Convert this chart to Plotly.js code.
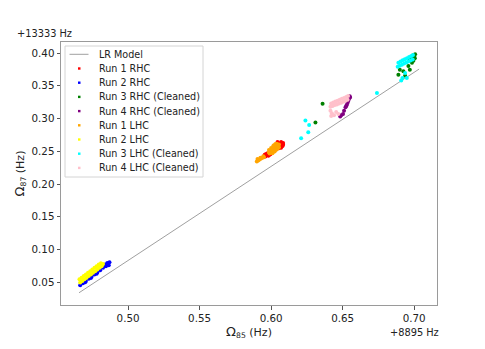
<!DOCTYPE html>
<html>
<head>
<meta charset="utf-8">
<script src="https://cdn.plot.ly/plotly-3.0.1.min.js"></script>
<style>
    html, body { margin: 0; padding: 0; background: #fff; }
    #chart { width: 485px; height: 349px; }
</style>
</head>
<body>
<div id="chart"></div>
<script>
// Offsets shown on the axes
const X_OFFSET_LABEL = "+8895 Hz";
const Y_OFFSET_LABEL = "+13333 Hz";

// Linear regression model
const lrX = [0.4657, 0.7035];
const lrY = [0.0340, 0.3755];

// Run 1 RHC
const run1RhcX = [0.5955, 0.5965, 0.5975, 0.5985, 0.5995, 0.5960, 0.5980, 0.6030, 0.6040, 0.6050, 0.6060, 0.6070, 0.6080, 0.6035, 0.6055, 0.6075, 0.6084, 0.6045, 0.6080, 0.6070, 0.6084];
const run1RhcY = [0.2445, 0.2460, 0.2470, 0.2440, 0.2455, 0.2420, 0.2430, 0.2560, 0.2580, 0.2600, 0.2620, 0.2640, 0.2610, 0.2530, 0.2545, 0.2580, 0.2625, 0.2640, 0.2580, 0.2555, 0.2600];

// Run 2 RHC
const run2RhcX = [0.4665, 0.4685, 0.4705, 0.4725, 0.4745, 0.4765, 0.4785, 0.4805, 0.4825, 0.4845, 0.4860, 0.4870, 0.4855, 0.4840, 0.4865, 0.4700, 0.4740, 0.4780];
const run2RhcY = [0.0455, 0.0485, 0.0520, 0.0555, 0.0585, 0.0620, 0.0650, 0.0685, 0.0720, 0.0745, 0.0780, 0.0805, 0.0795, 0.0770, 0.0760, 0.0500, 0.0565, 0.0630];

// Run 3 RHC (Cleaned)
const run3RhcX = [0.6360, 0.6310, 0.6970, 0.6980, 0.6990, 0.7000, 0.7005, 0.6995, 0.6985, 0.6900, 0.6925, 0.6890, 0.6970, 0.6937, 0.6960, 0.7007];
const run3RhcY = [0.3225, 0.2940, 0.3900, 0.3930, 0.3960, 0.3950, 0.3920, 0.3880, 0.3850, 0.3745, 0.3720, 0.3668, 0.3745, 0.3653, 0.3800, 0.3980];

// Run 4 RHC (Cleaned)
const run4RhcX = [0.6550, 0.6545, 0.6540, 0.6535, 0.6530, 0.6525, 0.6520, 0.6552, 0.6503, 0.6490, 0.6483, 0.6510];
const run4RhcY = [0.3340, 0.3300, 0.3270, 0.3240, 0.3210, 0.3190, 0.3170, 0.3320, 0.3070, 0.3050, 0.3030, 0.3120];

// Run 1 LHC
const run1LhcX = [0.5900, 0.5910, 0.5920, 0.5930, 0.5940, 0.5950, 0.5905, 0.5925, 0.5945,
                  0.5985, 0.5995, 0.6005, 0.6015, 0.6025, 0.6035, 0.6045, 0.6055, 0.5990, 0.6010, 0.6030, 0.6050, 0.6020, 0.6040,
                  0.5985, 0.6000, 0.6015, 0.6030, 0.6010, 0.6025, 0.6040, 0.6055];
const run1LhcY = [0.2345, 0.2360, 0.2375, 0.2390, 0.2400, 0.2410, 0.2380, 0.2400, 0.2425,
                  0.2480, 0.2500, 0.2520, 0.2540, 0.2555, 0.2575, 0.2590, 0.2605, 0.2465, 0.2490, 0.2520, 0.2550, 0.2590, 0.2615,
                  0.2520, 0.2550, 0.2580, 0.2610, 0.2470, 0.2495, 0.2525, 0.2560];

// Run 2 LHC
const run2LhcX = [0.4665, 0.4680, 0.4695, 0.4710, 0.4725, 0.4740, 0.4755, 0.4770, 0.4785, 0.4800, 0.4815,
                  0.4660, 0.4675, 0.4690, 0.4705, 0.4720, 0.4735, 0.4750, 0.4765, 0.4780, 0.4795, 0.4810, 0.4825];
const run2LhcY = [0.0495, 0.0520, 0.0545, 0.0570, 0.0595, 0.0620, 0.0645, 0.0670, 0.0695, 0.0720, 0.0745,
                  0.0545, 0.0570, 0.0595, 0.0620, 0.0645, 0.0670, 0.0695, 0.0720, 0.0745, 0.0770, 0.0790, 0.0780];

// Run 3 LHC (Cleaned)
const run3LhcX = [0.6240, 0.6266, 0.6260, 0.6210, 0.6740, 0.6910,
                  0.6885, 0.6900, 0.6915, 0.6930, 0.6945, 0.6960, 0.6975, 0.6990,
                  0.6890, 0.6905, 0.6920, 0.6935, 0.6950, 0.6965, 0.6980, 0.6992,
                  0.6937, 0.6949, 0.6918];
const run3LhcY = [0.2970, 0.2900, 0.2790, 0.2700, 0.3390, 0.3580,
                  0.3790, 0.3805, 0.3820, 0.3840, 0.3855, 0.3870, 0.3885, 0.3900,
                  0.3850, 0.3870, 0.3890, 0.3905, 0.3920, 0.3940, 0.3955, 0.3970,
                  0.3694, 0.3618, 0.3618];

// Run 4 LHC (Cleaned)
const run4LhcX = [0.6415, 0.6430, 0.6445, 0.6460, 0.6475, 0.6490, 0.6505, 0.6520, 0.6535,
                  0.6420, 0.6435, 0.6450, 0.6465, 0.6480, 0.6495, 0.6510, 0.6525, 0.6538,
                  0.6415, 0.6425, 0.6440, 0.6455, 0.6420, 0.6470];
const run4LhcY = [0.3180, 0.3190, 0.3205, 0.3215, 0.3230, 0.3240, 0.3255, 0.3270, 0.3285,
                  0.3230, 0.3245, 0.3260, 0.3270, 0.3285, 0.3300, 0.3315, 0.3330, 0.3345,
                  0.3120, 0.3080, 0.3050, 0.3100, 0.3040, 0.3070];

const FONT = "DejaVu Sans, sans-serif";
const FRAME = "#9a9a9a";
const LR_COLOR = "#a0a0a0";

// plot box in pixels (used to place the hand-made legend)
const PLOT_L = 61, PLOT_R = 437, PLOT_T = 42, PLOT_B = 305;
const px2x = (px) => (px - PLOT_L) / (PLOT_R - PLOT_L);
const py2y = (py) => 1 - (py - PLOT_T) / (PLOT_B - PLOT_T);

function pts(name, x, y, color) {
    return {
        x, y, name, type: "scatter", mode: "markers",
        marker: { color, size: 4, symbol: "circle", line: { width: 0 } },
    };
}

const traces = [
    {
        x: lrX, y: lrY, name: "LR Model", type: "scatter", mode: "lines",
        line: { color: LR_COLOR, width: 1 },
    },
    pts("Run 1 RHC", run1RhcX, run1RhcY, "#ff0000"),
    pts("Run 2 RHC", run2RhcX, run2RhcY, "#0000ff"),
    pts("Run 3 RHC (Cleaned)", run3RhcX, run3RhcY, "#008000"),
    pts("Run 4 RHC (Cleaned)", run4RhcX, run4RhcY, "#800080"),
    pts("Run 1 LHC", run1LhcX, run1LhcY, "#ffa500"),
    pts("Run 2 LHC", run2LhcX, run2LhcY, "#ffff00"),
    pts("Run 3 LHC (Cleaned)", run3LhcX, run3LhcY, "#00ffff"),
    pts("Run 4 LHC (Cleaned)", run4LhcX, run4LhcY, "#ffc0cb"),
];

// Matplotlib-style compact legend (Plotly's own rows are too tall here)
const legendShapes = [{
    type: "rect", xref: "paper", yref: "paper",
    x0: px2x(65), x1: px2x(203), y0: py2y(177), y1: py2y(46),
    line: { color: "#d4d4d4", width: 1 }, fillcolor: "#fff", layer: "above",
}];
const legendNotes = [];
traces.forEach((t, i) => {
    const py = 54.3 + i * 14.2;
    if (t.mode === "lines") {
        legendShapes.push({
            type: "line", xref: "paper", yref: "paper",
            x0: px2x(69.5), x1: px2x(88.5), y0: py2y(py), y1: py2y(py),
            line: { color: LR_COLOR, width: 1 }, layer: "above",
        });
    } else {
        legendShapes.push({
            type: "rect", xref: "paper", yref: "paper",
            x0: px2x(78), x1: px2x(80.5), y0: py2y(py + 1.2), y1: py2y(py - 1.2),
            line: { width: 0 }, fillcolor: t.marker.color, layer: "above",
        });
    }
    legendNotes.push({
        text: t.name, xref: "paper", yref: "paper",
        x: px2x(96.5), y: py2y(py), xanchor: "left", yanchor: "middle",
        showarrow: false, font: { family: FONT, size: 9.6, color: "#222" },
    });
});

const axisBase = {
    showgrid: false, zeroline: false,
    showline: true, mirror: true, linecolor: FRAME, linewidth: 1,
    ticks: "outside", ticklen: 3.5, tickcolor: "#555", tickwidth: 1,
    tickfont: { family: FONT, size: 10.3, color: "#222" },
};

const layout = {
    width: 485, height: 349,
    margin: { t: PLOT_T, b: 349 - PLOT_B, l: PLOT_L, r: 485 - PLOT_R },
    paper_bgcolor: "#fff", plot_bgcolor: "#fff",
    font: { family: FONT, size: 10, color: "#222" },
    showlegend: false,
    xaxis: {
        ...axisBase,
        range: [0.4531, 0.716],
        tickvals: [0.50, 0.55, 0.60, 0.65, 0.70],
        ticktext: ["0.50", "0.55", "0.60", "0.65", "0.70"],
        title: {
            text: "<span style='font-size:13px'>Ω</span><sub>85</sub> (Hz)",
            font: { family: FONT, size: 11, color: "#222" }, standoff: 5,
        },
    },
    yaxis: {
        ...axisBase,
        range: [0.0153, 0.4168],
        tickvals: [0.05, 0.10, 0.15, 0.20, 0.25, 0.30, 0.35, 0.40],
        ticktext: ["0.05", "0.10", "0.15", "0.20", "0.25", "0.30", "0.35", "0.40"],
        title: {
            text: "<span style='font-size:13px'>Ω</span><sub>87</sub> (Hz)",
            font: { family: FONT, size: 11, color: "#222" }, standoff: 4,
        },
    },
    shapes: legendShapes,
    annotations: [
        ...legendNotes,
        {
            text: Y_OFFSET_LABEL, xref: "paper", yref: "paper",
            x: px2x(15), y: py2y(33.5), xanchor: "left", yanchor: "middle",
            showarrow: false, font: { family: FONT, size: 9.8, color: "#222" },
        },
        {
            text: X_OFFSET_LABEL, xref: "paper", yref: "paper",
            x: px2x(441), y: py2y(332), xanchor: "right", yanchor: "middle",
            showarrow: false, font: { family: FONT, size: 9.8, color: "#222" },
        },
    ],
};

Plotly.newPlot("chart", traces, layout, { displayModeBar: false, responsive: false });
</script>
</body>
</html>
